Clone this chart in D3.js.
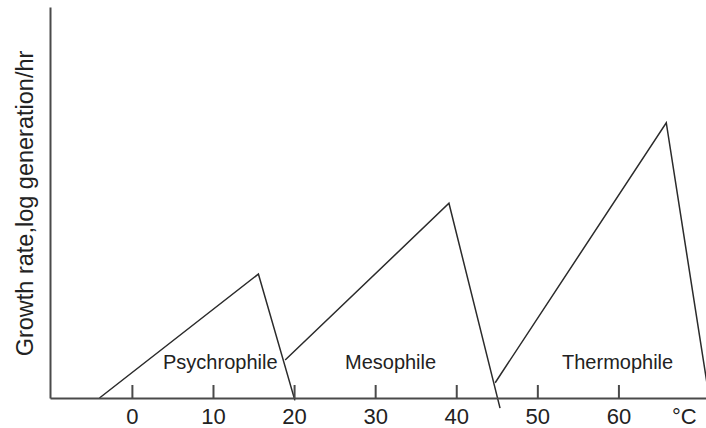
<!DOCTYPE html>
<html>
<head>
<meta charset="utf-8">
<script src="https://cdn.jsdelivr.net/npm/d3@7"></script>
<style>
    html, body { margin: 0; padding: 0; background: #fff; }
    svg { display: block; font-family: Arial, "Liberation Sans", sans-serif; }
    .curve { fill: none; stroke: #2b2b2b; stroke-width: 1.5; }
    .axis path, .axis line { stroke: #4a4a4a; stroke-width: 2; }
    .axis text { font-size: 22px; fill: #222; }
    .label { font-size: 20px; fill: #222; }
    .unit { font-size: 22px; fill: #222; }
    .y-title { font-size: 23.5px; fill: #222; }
</style>
</head>
<body>
<svg id="chart" width="706" height="428"></svg>
<script>
// temperature (°C) and growth rate (arbitrary units) for each group
const names = ['Psychrophile', 'Mesophile', 'Thermophile'];
const psychroTemp = [-4.0, 15.6, 20.1];
const psychroRate = [0, 3.17, -0.06];
const mesoTemp = [18.9, 39.1, 45.4];
const mesoRate = [0.97, 4.98, -0.26];
const thermoTemp = [44.8, 65.9, 71.2];
const thermoRate = [0.39, 7.04, 0];
const labelTemp = [10.9, 31.9, 59.9];
const labelRate = 0.73;
const tickValues = [0, 10, 20, 30, 40, 50, 60];

const WIDTH = 706;
const HEIGHT = 428;
const LEFT = 50;
const BASE = 398;
const TOP = 7;

const svg = d3.select('#chart');

const x = d3.scaleLinear().domain([-10.1, 70.8]).range([LEFT, WIDTH]);
const y = d3.scaleLinear().domain([0, 10]).range([BASE, TOP]);

const series = [
    d3.zip(psychroTemp, psychroRate),
    d3.zip(mesoTemp, mesoRate),
    d3.zip(thermoTemp, thermoRate),
];

const line = d3.line()
    .x(d => x(d[0]))
    .y(d => y(d[1]));

svg.append('g')
    .selectAll('path')
    .data(series)
    .enter()
    .append('path')
    .attr('class', 'curve')
    .attr('d', line);

svg.append('g')
    .attr('class', 'axis')
    .attr('transform', `translate(0,${BASE})`)
    .call(d3.axisBottom(x)
        .tickValues(tickValues)
        .tickSizeInner(-13)
        .tickSizeOuter(0)
        .tickPadding(10)
        .tickFormat(d3.format('d')));

svg.append('g')
    .attr('class', 'axis')
    .attr('transform', `translate(${LEFT},0)`)
    .call(d3.axisLeft(y).tickValues([]).tickSizeOuter(0));

svg.selectAll('.axis text').attr('font-family', null);

svg.append('text')
    .attr('class', 'unit')
    .attr('x', 672)
    .attr('y', 423.5)
    .text('°C');

svg.append('g')
    .selectAll('text')
    .data(names)
    .enter()
    .append('text')
    .attr('class', 'label')
    .attr('text-anchor', 'middle')
    .attr('x', (d, i) => x(labelTemp[i]))
    .attr('y', y(labelRate))
    .text(d => d);

svg.append('text')
    .attr('class', 'y-title')
    .attr('text-anchor', 'middle')
    .attr('transform', 'translate(33,203.5) rotate(-90)')
    .text('Growth rate,log generation/hr');
</script>
</body>
</html>
